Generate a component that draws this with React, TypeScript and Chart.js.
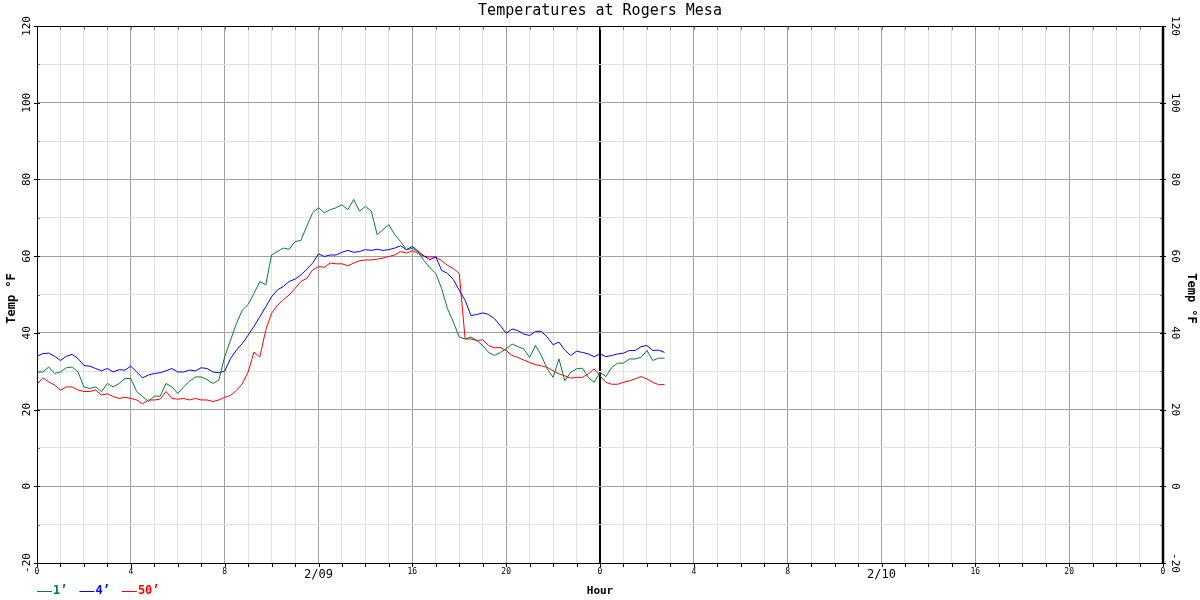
import React, { useEffect, useRef } from "react";
import { Chart, registerables } from "chart.js";

Chart.register(...registerables);

const TITLE = "Temperatures at Rogers Mesa";
const START_HOUR = 0;
const STEP_HOURS = 0.25;

// sensor at 1 ft (green)
const SERIES_1FT = [
  29.8, 29.8, 31.1, 29.4,
  29.8, 30.9, 31.1, 29.8,
  25.9, 25.5, 25.9, 24.7,
  26.8, 25.9, 26.8, 28.1,
  28.1, 24.7, 23.4, 22.1,
  23.5, 23.5, 26.8, 25.9,
  24.2, 25.9, 27.4, 28.5,
  28.5, 27.8, 26.8, 27.7,
  33.7, 38.1, 42.4, 45.9,
  47.4, 50.3, 53.4, 52.5,
  60.3, 61.2, 62.1, 61.8,
  63.8, 64.1, 67.8, 71.3,
  72.6, 71.3, 72.1, 72.6,
  73.4, 72.1, 74.8, 71.7,
  73.0, 71.7, 65.6, 66.9,
  68.2, 65.6, 63.8, 61.7,
  62.0, 61.1, 58.8, 57.0,
  55.5, 51.5, 46.3, 42.8,
  38.9, 38.4, 38.9, 38.0,
  36.7, 34.9, 34.1, 34.9,
  35.8, 37.1, 36.4, 35.8,
  33.6, 36.7, 34.1, 30.6,
  28.4, 33.2, 27.5, 29.7,
  30.6, 30.8, 28.4, 27.1,
  29.7, 28.6, 31.0, 32.1,
  32.1, 33.2, 33.2, 33.6,
  35.4, 32.8, 33.4, 33.4,
];

// sensor at 4 ft (blue)
const SERIES_4FT = [
  33.9, 34.6, 34.7, 33.9,
  32.8, 33.9, 34.4, 33.3,
  31.5, 31.3, 30.7, 30.1,
  30.7, 29.8, 30.4, 30.3,
  31.3, 29.8, 28.3, 29.0,
  29.4, 29.6, 30.1, 30.7,
  29.8, 29.8, 30.3, 30.1,
  30.9, 30.7, 29.8, 29.6,
  30.0, 33.3, 35.5, 37.2,
  39.4, 41.7, 44.2, 46.8,
  49.4, 51.2, 52.1, 53.4,
  54.0, 55.1, 56.6, 58.2,
  60.6, 59.9, 60.3, 60.3,
  61.0, 61.5, 61.0, 61.2,
  61.7, 61.5, 61.8, 61.5,
  61.7, 62.1, 62.7, 61.7,
  62.5, 61.3, 60.0, 59.1,
  59.8, 56.3, 55.5, 53.9,
  51.1, 48.5, 44.5, 44.8,
  45.2, 44.8, 43.7, 41.9,
  39.9, 41.0, 40.6, 39.7,
  39.3, 40.4, 40.4, 38.9,
  36.9, 37.6, 35.5, 34.1,
  35.2, 34.9, 34.5, 33.8,
  34.5, 33.8, 34.1, 34.5,
  34.7, 35.4, 35.4, 36.4,
  36.7, 35.4, 35.5, 34.9,
];

// sensor at 50 ft (red)
const SERIES_50FT = [
  26.6, 28.3, 27.2, 26.4,
  25.1, 25.9, 25.9, 25.1,
  24.7, 24.7, 25.1, 23.8,
  24.1, 23.4, 22.9, 23.2,
  22.9, 22.5, 21.5, 22.5,
  22.5, 22.7, 24.7, 22.9,
  22.7, 22.9, 22.5, 22.9,
  22.5, 22.5, 22.1, 22.5,
  23.2, 23.7, 25.0, 26.7,
  29.8, 35.0, 33.7, 40.7,
  45.1, 47.2, 48.6, 49.9,
  51.6, 53.4, 54.2, 56.4,
  57.3, 57.1, 58.2, 58.0,
  58.0, 57.5, 58.2, 58.8,
  59.0, 59.0, 59.2, 59.5,
  59.9, 60.3, 61.2, 60.8,
  61.4, 60.7, 60.0, 59.8,
  59.8, 58.8, 57.6, 56.8,
  55.5, 38.4, 38.4, 38.0,
  38.2, 36.7, 36.1, 36.2,
  35.4, 34.1, 33.6, 32.9,
  32.3, 31.7, 31.4, 31.0,
  30.1, 29.3, 28.8, 28.2,
  28.4, 28.4, 29.3, 30.6,
  28.8, 27.1, 26.6, 26.6,
  27.1, 27.5, 28.0, 28.6,
  28.0, 27.1, 26.5, 26.5,
];

const SERIES_NAMES = ["1’", "4’", "50’"];
const SERIES_COLORS = ["#008030", "#0000ff", "#ff0000"];

const X_MIN = 0;
const X_MAX = 48;
const Y_MIN = -20;
const Y_MAX = 120;
const Y_TICKS = [-20, 0, 20, 40, 60, 80, 100, 120];
const X_TICK_HOURS = [0, 4, 8, 16, 20, 24, 28, 32, 40, 44, 48];
const X_TICK_LABELS = ["0", "4", "8", "16", "20", "0", "4", "8", "16", "20", "0"];
const DATE_HOURS = [12, 36];
const DATE_LABELS = ["2/09", "2/10"];
const DAY_BOUNDARY = 24;

const MONO = '"DejaVu Sans Mono", "Liberation Mono", monospace';

function toPoints(values: number[]) {
  return values.map((v, i) => ({ x: START_HOUR + i * STEP_HOURS, y: v }));
}

const overlay = {
  id: "overlay",
  afterDraw(chart: any) {
    const ctx: CanvasRenderingContext2D = chart.ctx;
    const { left, right, top, bottom } = chart.chartArea;
    const xs = chart.scales.x;
    const ys = chart.scales.y;
    ctx.save();

    // tick marks
    ctx.strokeStyle = "#808080";
    ctx.lineWidth = 1;
    for (let h = X_MIN + 1; h < X_MAX; h++) {
      const px = Math.round(xs.getPixelForValue(h)) + 0.5;
      ctx.beginPath();
      ctx.moveTo(px, top);
      ctx.lineTo(px, top + 4);
      ctx.stroke();
    }
    ctx.strokeStyle = "#000";
    for (let h = X_MIN; h <= X_MAX; h++) {
      const px = Math.round(xs.getPixelForValue(h)) + 0.5;
      ctx.beginPath();
      ctx.moveTo(px, bottom);
      ctx.lineTo(px, bottom + 4);
      ctx.stroke();
    }
    for (let v = Y_MIN; v <= Y_MAX; v += 10) {
      const py = Math.round(ys.getPixelForValue(v)) + 0.5;
      const major = v % 20 === 0;
      ctx.strokeStyle = major ? "#000" : "#808080";
      ctx.beginPath();
      ctx.moveTo(left - (major ? 3 : 0), py);
      ctx.lineTo(left + 3, py);
      ctx.moveTo(right - 3, py);
      ctx.lineTo(right + (major ? 3 : 0), py);
      ctx.stroke();
    }

    // frame
    ctx.strokeStyle = "#000";
    ctx.lineWidth = 1;
    ctx.beginPath();
    ctx.moveTo(left, top + 0.5);
    ctx.lineTo(right, top + 0.5);
    ctx.moveTo(left, bottom + 0.5);
    ctx.lineTo(right, bottom + 0.5);
    ctx.moveTo(left + 0.5, top);
    ctx.lineTo(left + 0.5, bottom);
    ctx.stroke();
    ctx.lineWidth = 2.5;
    ctx.beginPath();
    ctx.moveTo(right, top);
    ctx.lineTo(right, bottom + 1);
    ctx.stroke();

    ctx.fillStyle = "#000";
    // title
    ctx.font = `15px ${MONO}`;
    ctx.textAlign = "center";
    ctx.textBaseline = "middle";
    ctx.fillText(TITLE, (left + right) / 2, 11);

    // y tick labels (rotated)
    ctx.font = `11px ${MONO}`;
    for (const v of Y_TICKS) {
      const py = ys.getPixelForValue(v);
      ctx.save();
      ctx.translate(left - 10, py);
      ctx.rotate(-Math.PI / 2);
      ctx.fillText(String(v), 0, 0);
      ctx.restore();
      ctx.save();
      ctx.translate(right + 12, py);
      ctx.rotate(Math.PI / 2);
      ctx.fillText(String(v), 0, 0);
      ctx.restore();
    }

    // axis titles
    ctx.font = `bold 12px ${MONO}`;
    const midY = (top + bottom) / 2 + 4;
    ctx.save();
    ctx.translate(12, midY);
    ctx.rotate(-Math.PI / 2);
    ctx.fillText("Temp °F", 0, 0);
    ctx.restore();
    ctx.save();
    ctx.translate(1191, midY);
    ctx.rotate(Math.PI / 2);
    ctx.fillText("Temp °F", 0, 0);
    ctx.restore();

    // x tick labels
    ctx.font = `8px ${MONO}`;
    X_TICK_HOURS.forEach((h, i) => {
      ctx.fillText(X_TICK_LABELS[i], xs.getPixelForValue(h), bottom + 9);
    });
    ctx.font = `12px ${MONO}`;
    DATE_HOURS.forEach((h, i) => {
      ctx.fillText(DATE_LABELS[i], xs.getPixelForValue(h), bottom + 12);
    });
    ctx.font = `bold 11px ${MONO}`;
    ctx.fillText("Hour", (left + right) / 2, 591);

    // legend
    ctx.textAlign = "left";
    ctx.font = `bold 12px ${MONO}`;
    let lx = left;
    SERIES_NAMES.forEach((name, i) => {
      ctx.strokeStyle = SERIES_COLORS[i];
      ctx.fillStyle = SERIES_COLORS[i];
      ctx.lineWidth = 1;
      ctx.beginPath();
      ctx.moveTo(lx, 591.5);
      ctx.lineTo(lx + 15, 591.5);
      ctx.stroke();
      ctx.fillText(name, lx + 16, 591);
      lx += 16 + ctx.measureText(name).width + 12;
    });

    ctx.restore();
  },
};

export default function App() {
  const ref = useRef<HTMLCanvasElement | null>(null);

  useEffect(() => {
    if (!ref.current) return;
    const series = [SERIES_1FT, SERIES_4FT, SERIES_50FT];
    const chart = new Chart(ref.current, {
      type: "line",
      data: {
        datasets: series.map((s, i) => ({
          label: SERIES_NAMES[i],
          data: toPoints(s),
          borderColor: SERIES_COLORS[i],
          backgroundColor: SERIES_COLORS[i],
          borderWidth: 1,
          pointRadius: 0,
          tension: 0,
          fill: false,
        })),
      },
      options: {
        animation: false,
        responsive: false,
        devicePixelRatio: 1,
        parsing: true,
        layout: { padding: { top: 26, left: 0, right: 0, bottom: 0 } },
        plugins: {
          legend: { display: false },
          title: { display: false },
          tooltip: { enabled: false },
        },
        scales: {
          x: {
            type: "linear",
            min: X_MIN,
            max: X_MAX,
            position: "bottom",
            ticks: { display: false, stepSize: 1 },
            border: { display: false },
            grid: {
              drawTicks: false,
              color: (c: any) => {
                const v = c.tick?.value;
                if (v === DAY_BOUNDARY) return "#000000";
                return v % 4 === 0 ? "#a0a0a0" : "#e2e2e2";
              },
              lineWidth: (c: any) => (c.tick?.value === DAY_BOUNDARY ? 2 : 1),
            },
            afterFit: (s: any) => {
              s.height = 37;
            },
          },
          y: {
            type: "linear",
            min: Y_MIN,
            max: Y_MAX,
            position: "left",
            ticks: { display: false, stepSize: 10 },
            border: { display: false },
            grid: {
              drawTicks: false,
              color: (c: any) => (c.tick?.value % 20 === 0 ? "#a0a0a0" : "#e2e2e2"),
            },
            afterFit: (s: any) => {
              s.width = 37;
            },
          },
          y2: {
            type: "linear",
            min: Y_MIN,
            max: Y_MAX,
            position: "right",
            ticks: { display: false },
            border: { display: false },
            grid: { display: false },
            afterFit: (s: any) => {
              s.width = 37;
            },
          },
        },
      },
      plugins: [overlay],
    });
    return () => chart.destroy();
  }, []);

  return (
    <canvas
      ref={ref}
      width={1200}
      height={600}
      style={{ position: "fixed", left: 0, top: 0, width: 1200, height: 600, background: "#fff" }}
    />
  );
}
